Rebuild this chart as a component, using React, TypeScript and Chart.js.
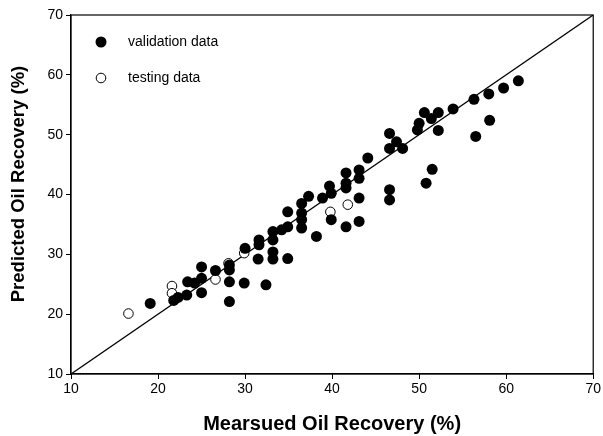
import React, { useEffect, useRef } from "react";
import { Chart, registerables } from "chart.js";

Chart.register(...registerables);

const validationX = [19.1, 21.8, 22.3, 23.3, 23.4, 24.2, 25.0, 25.0, 25.0, 26.6, 28.2, 28.2, 28.2, 28.2, 29.9, 30.0, 31.6, 31.6, 31.5, 32.4, 33.2, 33.2, 33.2, 33.2, 34.2, 34.9, 34.9, 34.9, 36.5, 36.5, 36.5, 36.5, 37.3, 38.2, 38.9, 39.7, 39.9, 39.9, 41.6, 41.6, 41.6, 41.6, 43.1, 43.1, 43.1, 43.1, 44.1, 46.6, 47.4, 46.6, 48.1, 46.6, 46.6, 49.8, 50.0, 50.6, 51.4, 52.2, 52.2, 50.8, 51.5, 53.9, 56.3, 56.5, 58.0, 58.1, 59.7, 61.4];
const validationY = [21.8, 22.3, 22.8, 23.2, 25.4, 25.2, 23.6, 26.0, 27.9, 27.3, 28.2, 27.4, 25.4, 22.1, 25.2, 31.0, 32.4, 31.6, 29.2, 24.9, 33.8, 32.4, 30.4, 29.2, 34.1, 37.1, 34.6, 29.3, 38.5, 36.9, 35.8, 34.4, 39.7, 33.0, 39.4, 41.4, 40.2, 35.8, 43.6, 41.9, 41.1, 34.6, 44.1, 42.7, 39.4, 35.5, 46.1, 50.2, 48.8, 47.7, 47.7, 40.8, 39.1, 50.8, 51.9, 53.7, 52.7, 53.7, 50.7, 41.9, 44.2, 54.3, 55.9, 49.7, 56.8, 52.4, 57.8, 59.0];

const testingX = [16.6, 21.6, 21.6, 26.6, 28.1, 29.9, 39.8, 41.8];
const testingY = [20.1, 24.7, 23.5, 25.8, 28.5, 30.2, 37.1, 38.3];

const lineX = [10, 70];
const lineY = [10, 70];

const axisMin = 10;
const axisMax = 70;
const tickStep = 10;

const legendLabels = ["validation data", "testing data"];
const xTitle = "Mearsued Oil Recovery (%)";
const yTitle = "Predicted Oil Recovery (%)";

const FONT = "'Liberation Sans', Arial, sans-serif";

export default function App() {
  const ref = useRef<HTMLCanvasElement | null>(null);

  useEffect(() => {
    if (!ref.current) return;
    const framePlugin = {
      id: "frameLegend",
      afterDraw(chart: any) {
        const { ctx, chartArea } = chart;
        ctx.save();
        ctx.strokeStyle = "#000";
        ctx.lineWidth = 1.2;
        ctx.strokeRect(chartArea.left, chartArea.top, chartArea.right - chartArea.left, chartArea.bottom - chartArea.top);
        const lx = chartArea.left + 30;
        const ys = [chartArea.top + 27, chartArea.top + 63];
        ctx.font = `14px ${FONT}`;
        ctx.textBaseline = "middle";
        ys.forEach((y, i) => {
          ctx.beginPath();
          ctx.arc(lx, y, i === 0 ? 5.5 : 4.8, 0, Math.PI * 2);
          if (i === 0) {
            ctx.fillStyle = "#000";
            ctx.fill();
          } else {
            ctx.fillStyle = "#fff";
            ctx.fill();
            ctx.lineWidth = 1;
            ctx.strokeStyle = "#000";
            ctx.stroke();
          }
          ctx.fillStyle = "#000";
          ctx.fillText(legendLabels[i], lx + 27, y);
        });
        // y axis title
        ctx.translate(19, 184);
        ctx.rotate(-Math.PI / 2);
        ctx.font = `bold 18.5px ${FONT}`;
        ctx.textAlign = "center";
        ctx.textBaseline = "middle";
        ctx.fillStyle = "#000";
        ctx.fillText(yTitle, 0, 0);
        ctx.restore();
      },
    };

    const chart = new Chart(ref.current, {
      type: "scatter",
      data: {
        datasets: [
          {
            type: "line",
            data: lineX.map((x, i) => ({ x, y: lineY[i] })),
            borderColor: "#000",
            borderWidth: 1.3,
            pointRadius: 0,
            fill: false,
            order: 3,
          } as any,
          {
            data: validationX.map((x, i) => ({ x, y: validationY[i] })),
            backgroundColor: "#000",
            borderColor: "#000",
            pointRadius: 5.5,
            borderWidth: 0,
            order: 1,
          },
          {
            data: testingX.map((x, i) => ({ x, y: testingY[i] })),
            backgroundColor: "#fff",
            borderColor: "#000",
            pointRadius: 4.8,
            borderWidth: 1,
            order: 2,
          },
        ],
      },
      options: {
        animation: false,
        responsive: false,
        maintainAspectRatio: false,
        layout: { padding: { top: 15, right: 9, left: 0, bottom: 0 } },
        plugins: { legend: { display: false }, tooltip: { enabled: false } },
        scales: {
          x: {
            type: "linear",
            min: axisMin,
            max: axisMax,
            afterFit: (s: any) => {
              s.height = 62;
            },
            ticks: { stepSize: tickStep, color: "#000", font: { family: FONT, size: 14 }, padding: 2 },
            grid: { drawOnChartArea: false, drawTicks: true, tickLength: 5, color: "#000" },
            border: { color: "#000", width: 1.2 },
            title: {
              display: true,
              text: xTitle,
              color: "#000",
              font: { family: FONT, size: 20, weight: "bold" },
              padding: { top: 16, bottom: 0 },
            },
          },
          y: {
            type: "linear",
            min: axisMin,
            max: axisMax,
            afterFit: (s: any) => {
              s.width = 71;
            },
            ticks: { stepSize: tickStep, color: "#000", font: { family: FONT, size: 14 }, padding: 3 },
            grid: { drawOnChartArea: false, drawTicks: true, tickLength: 5, color: "#000" },
            border: { color: "#000", width: 1.2 },
            title: { display: false, text: yTitle },
          },
        },
      },
      plugins: [framePlugin],
    });
    return () => chart.destroy();
  }, []);

  return (
    <div style={{ position: "fixed", left: 0, top: 0, width: 603, height: 436, background: "#fff" }}>
      <canvas ref={ref} width={603} height={436} style={{ width: 603, height: 436 }} />
    </div>
  );
}
